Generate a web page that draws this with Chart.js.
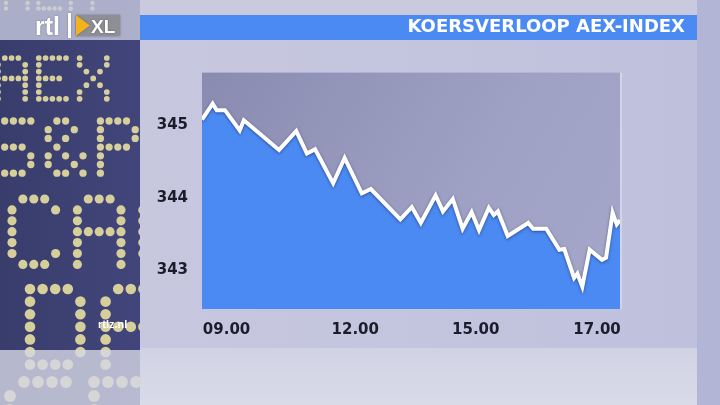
<!DOCTYPE html>
<html>
<head>
<meta charset="utf-8">
<script src="https://cdn.jsdelivr.net/npm/chart.js@4/dist/chart.umd.min.js"></script>
<style>
html,body{margin:0;padding:0;background:#c3c4dc;}
#wrap{position:relative;width:720px;height:405px;}
canvas{display:block;}
</style>
</head>
<body>
<div id="wrap"><canvas id="c" width="720" height="405"></canvas></div>
<script>
// ---- data ----
const chartTitle = 'KOERSVERLOOP AEX-INDEX';
// minutes into the session (as drawn) and index values
const times = [0,13,18,28,46,51,94,115,128,138,160,174,195,206,242,256,267,285,294,306,318,329,338,350,356,361,373,398,404,420,436,442,454,458,464,473,488,493,501,506,510];
const values = [345.08,345.30,345.21,345.21,344.93,345.07,344.66,344.92,344.61,344.67,344.20,344.55,344.06,344.12,343.70,343.87,343.65,344.03,343.81,343.98,343.57,343.80,343.55,343.86,343.76,343.81,343.47,343.65,343.57,343.57,343.28,343.29,342.89,342.95,342.77,343.28,343.14,343.17,343.79,343.63,343.69];
const xTickValues = [30,187,334,482];
const xTickLabels = ['09.00','12.00','15.00','17.00'];
const yTickValues = [343,344,345];
const yMin = 342.46, yMax = 345.73;

// ---- dot matrix backdrop glyphs ----
const glyphs = {
  'A':[" ### ","#   #","#   #","#####","#   #","#   #","#   #"],
  'E':["#####","#    ","#    ","#### ","#    ","#    ","#####"],
  'X':["#   #","#   #"," # # ","  #  "," # # ","#   #","#   #"],
  'S':[" ####","#    ","#    "," ### ","    #","    #","#### "],
  '&':[" ##  ","#  # ","# #  "," #   ","# # #","#  # "," ## #"],
  'P':["#### ","#   #","#   #","#### ","#    ","#    ","#    "],
  'C':[" ### ","#   #","#    ","#    ","#    ","#   #"," ### "],
  'D':["#### ","#   #","#   #","#   #","#   #","#   #","#### "]
};
const boardRows = [
  {t:'AEX', x:6,  y:-24, p:5.4},
  {t:'AEX', x:-2, y:58,  p:6.8},
  {t:'S&P', x:-4, y:121, p:8.7},
  {t:'CAC', x:12, y:199, p:10.9},
  {t:'DAX', x:30, y:289, p:12.6},
  {t:'SEX', x:10, y:382, p:14}
];

function drawBoard(ctx){
  ctx.save();
  ctx.beginPath(); ctx.rect(0,0,140,405); ctx.clip();
  let g = ctx.createLinearGradient(0,0,140,0);
  g.addColorStop(0,'#393d6c'); g.addColorStop(1,'#41457a');
  ctx.fillStyle = g;
  ctx.fillRect(0,0,140,405);
  ctx.fillStyle = '#d6cf9c';
  boardRows.forEach(r=>{
    [...r.t].forEach((ch,ci)=>{
      const gl = glyphs[ch]; if(!gl) return;
      gl.forEach((row,ri)=>{
        [...row].forEach((c,cj)=>{
          if(c==='#'){
            ctx.beginPath();
            ctx.arc(r.x + (ci*6+cj)*r.p, r.y + ri*r.p, r.p*0.42, 0, Math.PI*2);
            ctx.fill();
          }
        });
      });
    });
  });
  ctx.fillStyle = 'rgba(200,202,222,0.8)';
  ctx.fillRect(0,0,140,40);
  ctx.fillStyle = 'rgba(214,215,230,0.8)';
  ctx.fillRect(0,350,140,55);
  ctx.restore();
}

const backdrop = {
  id:'backdrop',
  beforeDraw(chart){
    const ctx = chart.ctx;
    ctx.save();
    let g = ctx.createLinearGradient(0,0,720,0);
    g.addColorStop(0,'#c9cadf'); g.addColorStop(0.5,'#c4c5de'); g.addColorStop(1,'#bfc0dc');
    ctx.fillStyle = g; ctx.fillRect(0,0,720,405);
    ctx.fillStyle = '#c9cadf'; ctx.fillRect(140,0,580,15);
    let gb = ctx.createLinearGradient(0,345,0,405);
    gb.addColorStop(0,'#d0d1e3'); gb.addColorStop(1,'#dadbe9');
    ctx.fillStyle = gb; ctx.fillRect(140,348,557,57);
    ctx.fillStyle = '#b3b5d6'; ctx.fillRect(697,0,23,405);
    drawBoard(ctx);
    ctx.fillStyle = '#4b8af3';
    ctx.fillRect(140,15,557,25);
    const a = chart.chartArea;
    let pg = ctx.createLinearGradient(a.left,a.top,a.right,a.bottom);
    pg.addColorStop(0,'#8a8bb0'); pg.addColorStop(0.6,'#9ea0c4'); pg.addColorStop(1,'#a6a8ca');
    ctx.fillStyle = pg;
    ctx.fillRect(a.left,a.top,a.right-a.left,a.bottom-a.top);
    ctx.fillStyle = 'rgba(230,230,245,0.5)';
    ctx.fillRect(a.right,a.top,2,a.bottom-a.top);
    ctx.restore();
  },
  afterDraw(chart){
    const ctx = chart.ctx;
    ctx.save();
    ctx.fillStyle = '#ffffff';
    ctx.font = 'bold 25px "Liberation Sans", Arial, sans-serif';
    ctx.textBaseline = 'alphabetic';
    ctx.shadowColor = 'rgba(0,0,0,0.35)'; ctx.shadowBlur = 2;
    ctx.fillText('rtl', 35, 35);
    ctx.fillRect(68,13,3,25);
    ctx.fillStyle = '#8e8e96';
    ctx.fillRect(76,15,44,21);
    ctx.fillStyle = '#f3b21c';
    ctx.beginPath(); ctx.moveTo(76,15); ctx.lineTo(90,25.5); ctx.lineTo(76,36); ctx.closePath(); ctx.fill();
    ctx.fillStyle = '#ffffff';
    ctx.font = 'bold 19px "Liberation Sans", Arial, sans-serif';
    ctx.fillText('XL', 91, 33);
    ctx.shadowBlur = 0;
    ctx.font = 'bold 11px "Liberation Sans", Arial, sans-serif';
    ctx.fillText('rtlz.nl', 98, 328);
    ctx.restore();
  },
  beforeDatasetDraw(chart){
    chart.ctx.save();
    chart.ctx.shadowColor = 'rgba(30,30,70,0.55)';
    chart.ctx.shadowBlur = 3;
    chart.ctx.shadowOffsetY = 1;
  },
  afterDatasetDraw(chart){
    chart.ctx.restore();
  }
};

const tickFont = {family:'"DejaVu Sans", sans-serif', size:15, weight:'bold'};

new Chart(document.getElementById('c'), {
  type:'line',
  data:{
    datasets:[{
      label:'AEX',
      data: times.map((t,i)=>({x:t, y:values[i]})),
      borderColor:'#ffffff',
      borderWidth:4,
      backgroundColor:'#4b8af3',
      fill:'start',
      pointRadius:0,
      tension:0,
      borderJoinStyle:'miter'
    }]
  },
  options:{
    responsive:false,
    animation:false,
    devicePixelRatio:1,
    layout:{padding:{left:0, right:35, top:0, bottom:66}},
    plugins:{
      legend:{display:false},
      tooltip:{enabled:false},
      title:{
        display:true, text:chartTitle, align:'end', color:'#ffffff',
        font:{family:'"DejaVu Sans", sans-serif', size:18, weight:'bold', lineHeight:1.2},
        padding:{top:17, bottom:34}
      }
    },
    scales:{
      x:{
        type:'linear', min:0, max:510,
        grid:{display:false, drawTicks:false}, border:{display:false},
        afterBuildTicks:(s)=>{ s.ticks = xTickValues.map(v=>({value:v})); },
        afterFit:(s)=>{ s.height = 30; },
        ticks:{
          padding:12, color:'#1c1c2c', font:tickFont, maxRotation:0, autoSkip:false,
          callback:(v)=>{ const i = xTickValues.indexOf(v); return i>=0 ? xTickLabels[i] : ''; }
        }
      },
      y:{
        type:'linear', min:yMin, max:yMax,
        grid:{display:false, drawTicks:false}, border:{display:false},
        afterBuildTicks:(s)=>{ s.ticks = yTickValues.map(v=>({value:v})); },
        afterFit:(s)=>{ s.width = 202; },
        ticks:{ padding:14, color:'#1c1c2c', font:tickFont, callback:(v)=>String(v) }
      },
      y2:{
        position:'right', type:'linear', min:0, max:1,
        grid:{display:false, drawTicks:false}, border:{display:false},
        ticks:{display:false},
        afterFit:(s)=>{ s.width = 65; }
      }
    }
  },
  plugins:[backdrop]
});
</script>
</body>
</html>
